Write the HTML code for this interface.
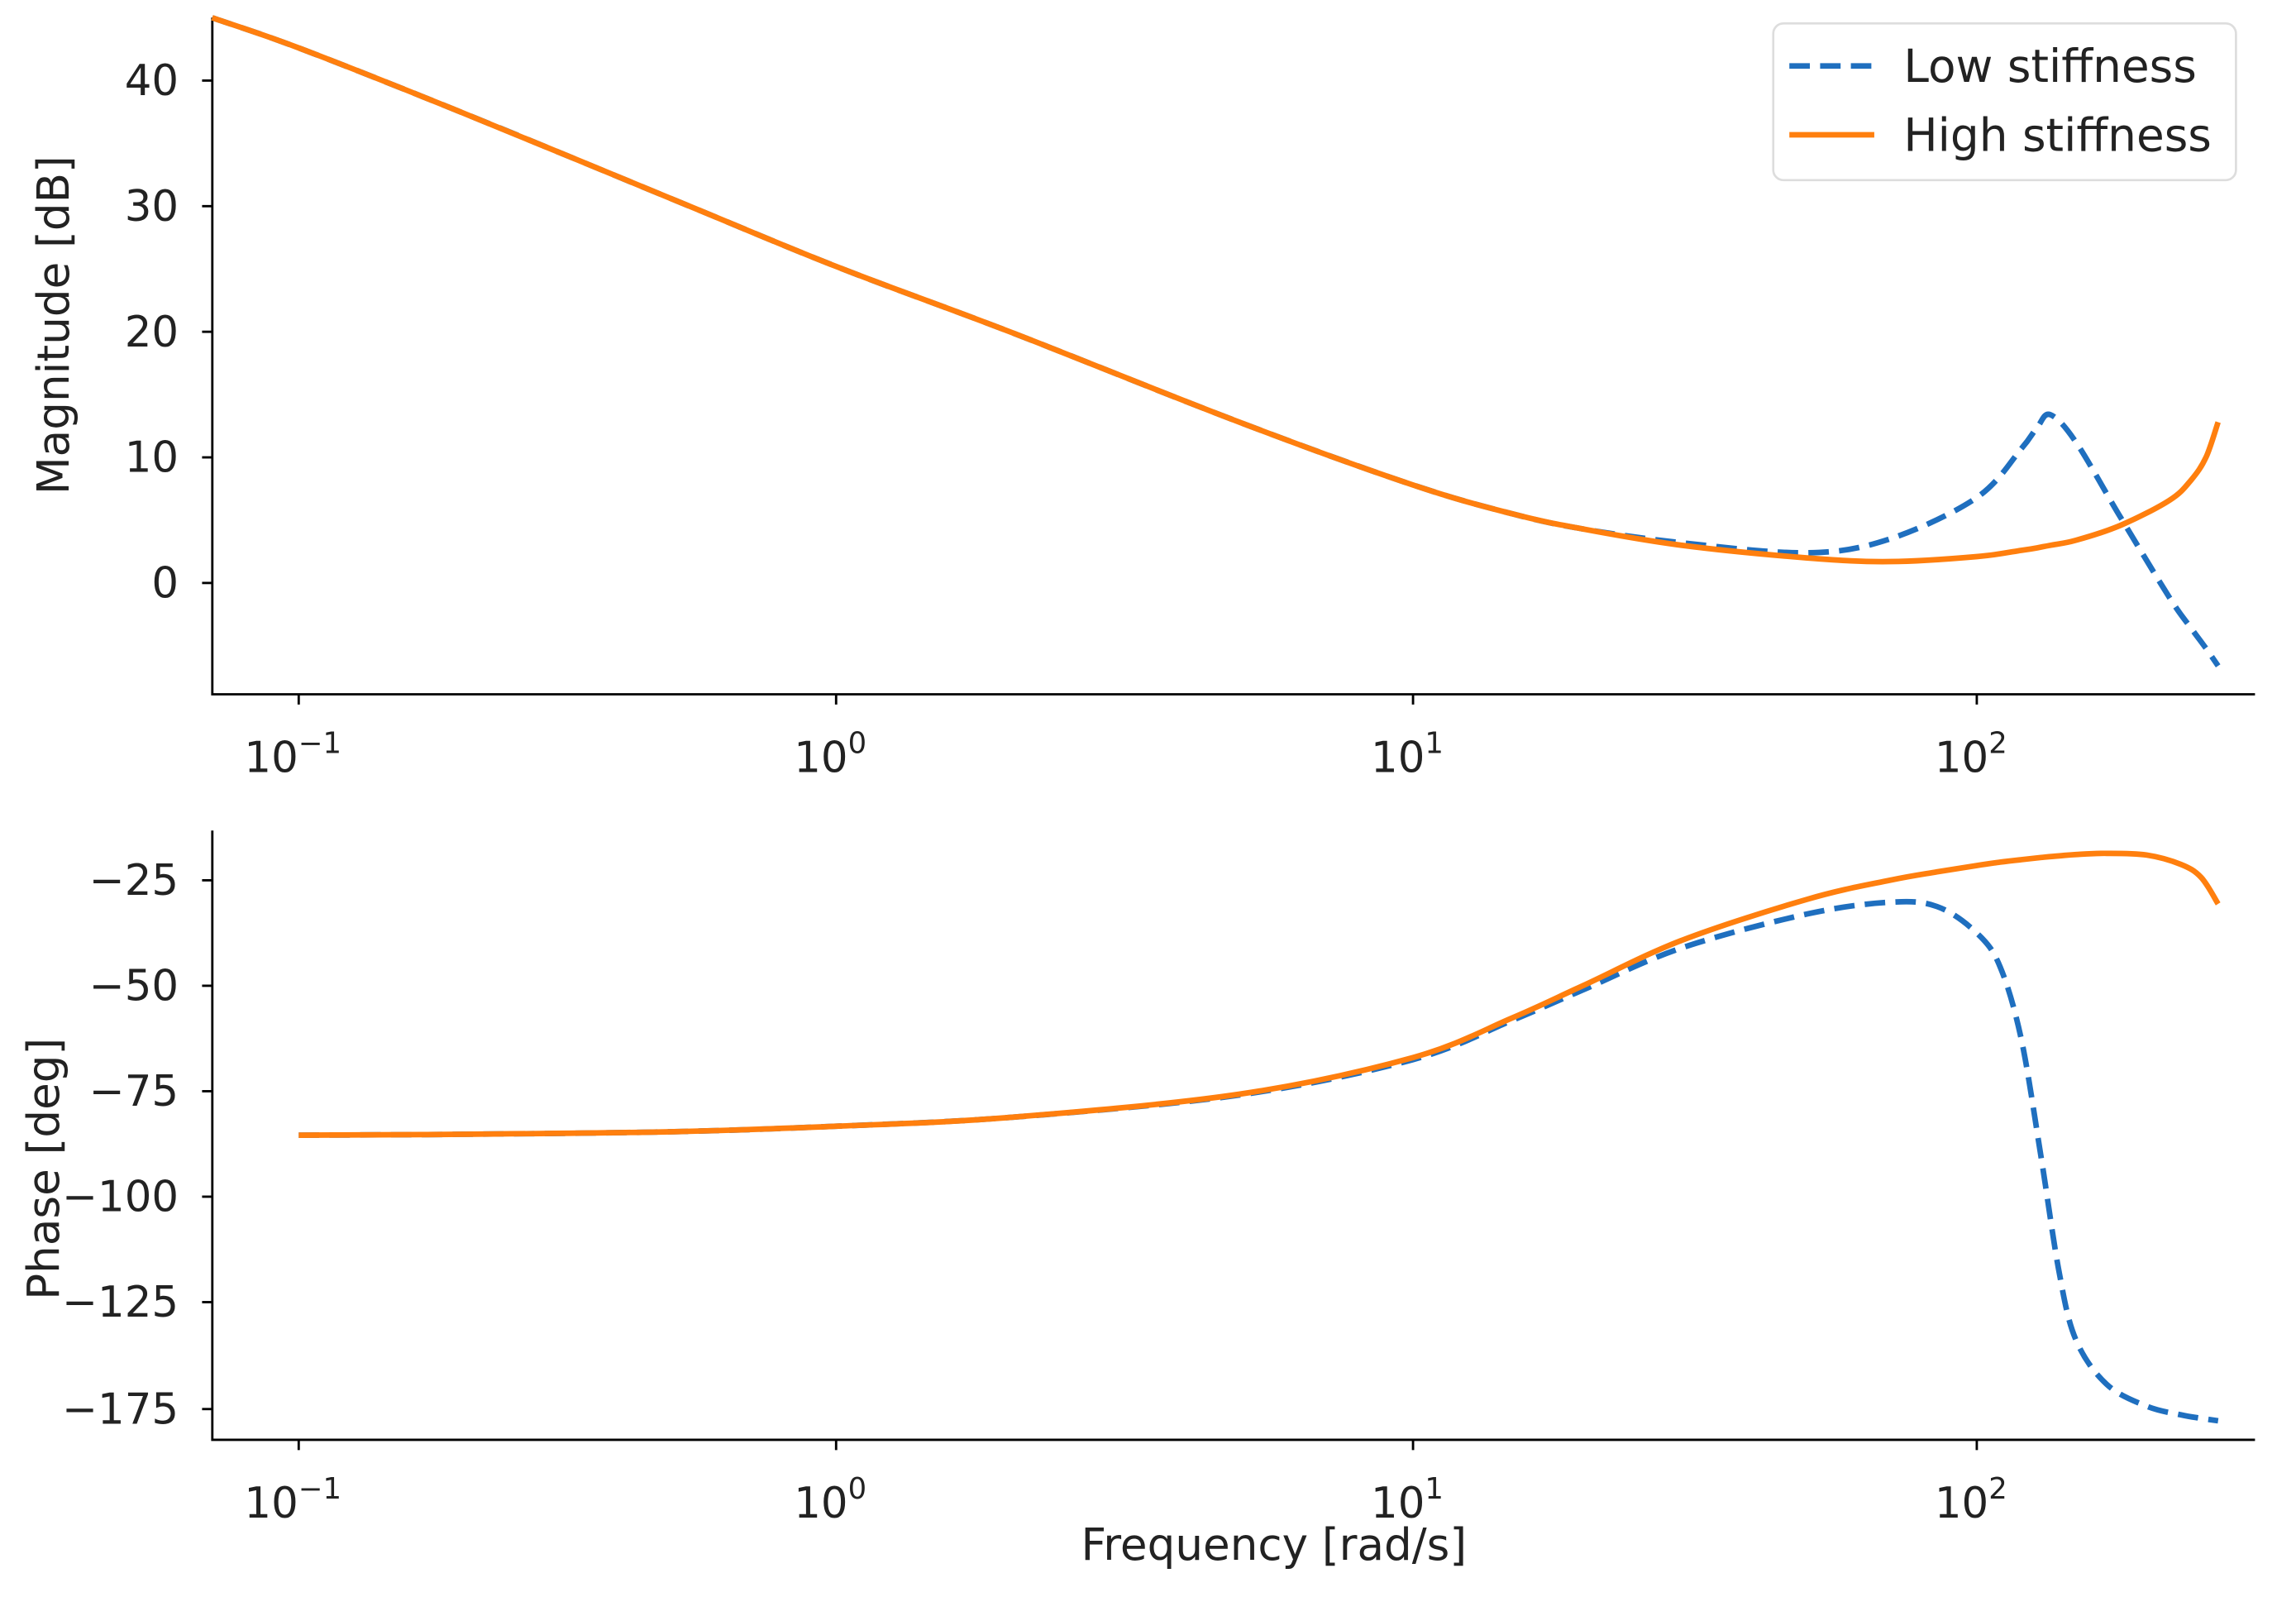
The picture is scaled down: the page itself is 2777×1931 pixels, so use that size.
<!DOCTYPE html>
<html><head><meta charset="utf-8"><style>
html,body{margin:0;padding:0;background:#fff;}
svg{display:block;font-family:"DejaVu Sans","Liberation Sans",sans-serif;}
</style></head><body>
<svg id="chart" width="2777" height="1931" viewBox="0 0 1568 1090.3" xmlns="http://www.w3.org/2000/svg">
<rect width="1568" height="1090.3" fill="#fff"/>
<g id="topAxes"></g>
<g id="botAxes"></g>
<text transform="translate(47,222) rotate(-90)" text-anchor="middle" font-size="30" fill="#222">Magnitude [dB]</text>
<text transform="translate(40,798) rotate(-90)" text-anchor="middle" font-size="30" fill="#222">Phase [deg]</text>
<text x="870" y="1065" text-anchor="middle" font-size="30" fill="#222">Frequency [rad/s]</text>
<g>
<rect x="1211" y="16" width="316" height="107" rx="7" fill="#fff" stroke="#ddd" stroke-width="1.5"/>
<line x1="1222" y1="45" x2="1280" y2="45" stroke="#1f6fbf" stroke-width="3.8" stroke-dasharray="14,7"/>
<text x="1300" y="56" font-size="31" fill="#222">Low stiffness</text>
<line x1="1222" y1="92" x2="1280" y2="92" stroke="#ff7f0e" stroke-width="3.8"/>
<text x="1300" y="103" font-size="31" fill="#222">High stiffness</text>
</g>
</svg>
<script>
const freqs = [0.069,0.1,0.2,0.5,1,2,5,10,15,20,30,50,70,100,120,128,135,150,180,220,240,255,268];
const magHigh = [45,42.6,37.5,30.5,25.2,20,12.8,7.8,5.5,4.3,3.0,2.0,1.7,2.1,2.6,2.8,3.0,3.4,4.6,6.6,8.2,10.0,12.8];
const magLow  = [45,42.6,37.5,30.5,25.2,20,12.8,7.8,5.5,4.3,3.2,2.4,3.5,6.8,10.7,12.4,13.4,11.2,5.2,-1.2,-3.6,-5.2,-6.6];
const phFreqs = [0.1,0.2,0.5,1,2,5,10,15,20,30,50,70,85,100,110,120,130,140,150,170,200,230,250,268];
const phHigh = [-85.4,-85.2,-84.6,-83.3,-81.2,-75.7,-67,-57.6,-50,-39.2,-29.5,-25,-23,-21.5,-20.7,-20.1,-19.6,-19.2,-18.9,-18.6,-19.0,-21.2,-24.3,-30.6];
const phLow  = [-85.4,-85.2,-84.6,-83.3,-81.2,-75.9,-67.5,-58.2,-51,-41,-33,-30.2,-31.2,-37.5,-45.5,-62.8,-90.6,-118,-142.8,-163.4,-173.6,-177.7,-179.3,-180.5];
const xTickExp = [-1,0,1,2];
const magTicks = [40,30,20,10,0];
const phTicks = [-25,-50,-75,-100,-125,-175];

const NS="http://www.w3.org/2000/svg";
function interp(v,ks,ps){
  let i=0; while(i<ks.length-2 && v>ks[i+1]) i++;
  return ps[i]+(v-ks[i])*(ps[i+1]-ps[i])/(ks[i+1]-ks[i]);
}
function xScale(f){ return interp(Math.log10(f),[-1,0,1,2],[204,571,965,1350]); }
function yMag(v){ return 398-(v)*8.575; }
function yPh(v){ return interp(v,[-175,-125,-100,-75,-50,-25],[962,889,817,745,673,601]); }
function el(t,a,p){const e=document.createElementNS(NS,t);for(const k in a)e.setAttribute(k,a[k]);p.appendChild(e);return e;}
function path(xs,ys){
  const p=xs.map((x,i)=>[x,ys[i]]);
  let d="M"+p[0][0].toFixed(1)+","+p[0][1].toFixed(1);
  for(let i=0;i<p.length-1;i++){
    const p0=p[Math.max(0,i-1)],p1=p[i],p2=p[i+1],p3=p[Math.min(p.length-1,i+2)];
    const c1=[p1[0]+(p2[0]-p0[0])/6,p1[1]+(p2[1]-p0[1])/6];
    const c2=[p2[0]-(p3[0]-p1[0])/6,p2[1]-(p3[1]-p1[1])/6];
    d+=" C"+c1.map(v=>v.toFixed(1))+" "+c2.map(v=>v.toFixed(1))+" "+p2[0].toFixed(1)+","+p2[1].toFixed(1);
  }
  return d;
}
function axes(g,yTop,yBottom,yticks,yf,name){
  const ax=el("path",{d:`M145,${yTop} V${yBottom} H1540`,fill:"none",stroke:"#000","stroke-width":1.6},g);
  
  
  xTickExp.forEach(e=>{
    const x=xScale(Math.pow(10,e));
    const tk=el("line",{x1:x,y1:yBottom,x2:x,y2:yBottom+7,stroke:"#000","stroke-width":1.6},g);
    
    
    const t=el("text",{x:x-4,y:yBottom+53,"text-anchor":"middle","font-size":29,fill:"#222"},g);
    
    
    t.textContent="10";
    const s=el("tspan",{dy:-13,"font-size":20},t); s.textContent=(e<0?"\u2212":"")+Math.abs(e);
  });
  yticks.forEach(v=>{
    const y=yf(v);
    const tk=el("line",{x1:138,y1:y,x2:145,y2:y,stroke:"#000","stroke-width":1.6},g);
    
    
    const t=el("text",{x:122,y:y+10,"text-anchor":"end","font-size":29,fill:"#222"},g);
    
    
    t.textContent=String(v).replace("-","\u2212");
  });
}
const topG=document.getElementById("topAxes"), botG=document.getElementById("botAxes");
axes(topG,12,474,magTicks,yMag,"magnitude");
axes(botG,567,983,phTicks,yPh,"phase");
const BLUE="#1f6fbf", ORANGE="#ff7f0e";
let ln=el("path",{d:path(freqs.map(xScale),magLow.map(yMag)),fill:"none",stroke:BLUE,"stroke-width":3.8,"stroke-dasharray":"14,7"},topG);


ln=el("path",{d:path(freqs.map(xScale),magHigh.map(yMag)),fill:"none",stroke:ORANGE,"stroke-width":3.8},topG);


ln=el("path",{d:path(phFreqs.map(xScale),phLow.map(yPh)),fill:"none",stroke:BLUE,"stroke-width":3.8,"stroke-dasharray":"14,7"},botG);


ln=el("path",{d:path(phFreqs.map(xScale),phHigh.map(yPh)),fill:"none",stroke:ORANGE,"stroke-width":3.8},botG);


</script>
</body></html>
